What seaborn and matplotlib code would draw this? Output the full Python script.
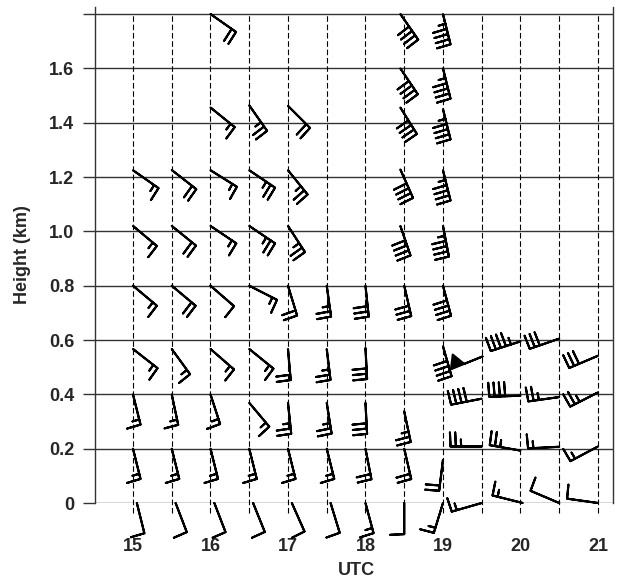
import numpy as np
import pandas as pd
import matplotlib
matplotlib.use("Agg")
import matplotlib.pyplot as plt
import seaborn as sns

# ---------------- data ----------------
hour_ticks = [15, 16, 17, 18, 19, 20, 21]
profile_times = [15.0, 15.5, 16.0, 16.5, 17.0, 17.5, 18.0, 18.5, 19.0, 19.5, 20.0, 20.5, 21.0]
height_ticks = [0.0, 0.2, 0.4, 0.6, 0.8, 1.0, 1.2, 1.4, 1.6, 1.8]
height_labels = ["0", "0.2", "0.4", "0.6", "0.8", "1.0", "1.2", "1.4", "1.6", ""]

# wind barbs: time (UTC h), height (km), direction wind blows from (deg), speed
barb_time = (
    [15.0] * 6 + [15.05]
    + [15.5] * 6 + [15.55]
    + [16.0] * 8 + [16.05]
    + [16.5] * 7 + [16.55]
    + [17.0] * 7 + [17.05]
    + [17.5] * 4 + [17.55]
    + [18.0] * 5
    + [18.45] * 5 + [18.5] * 4
    + [19.0] * 9
    + [19.5] * 4
    + [20.0] * 3 + [20.03]
    + [20.5] * 4
    + [21.0] * 4
)
barb_height = (
    [1.225, 1.02, 0.8, 0.567, 0.4, 0.2, 0.0]
    + [1.226, 1.02, 0.8, 0.567, 0.4, 0.2, 0.0]
    + [1.8, 1.456, 1.225, 1.02, 0.8, 0.567, 0.4, 0.2, 0.0]
    + [1.464, 1.225, 1.02, 0.8, 0.567, 0.369, 0.2, 0.0]
    + [1.462, 1.225, 1.02, 0.8, 0.567, 0.369, 0.2, 0.0]
    + [0.8, 0.567, 0.369, 0.2, 0.0]
    + [0.8, 0.571, 0.369, 0.2, 0.0]
    + [1.8, 1.6, 1.456, 1.228, 1.02, 0.8, 0.337, 0.2, 0.0]
    + [1.8, 1.6, 1.45, 1.225, 1.02, 0.8, 0.577, 0.159, 0.0]
    + [0.542, 0.384, 0.208, 0.0]
    + [0.595, 0.395, 0.193, 0.0]
    + [0.605, 0.39, 0.207, 0.0]
    + [0.542, 0.407, 0.208, 0.0]
)
barb_dir = (
    [125, 130, 130, 128, 166, 166, 166]
    + [128, 129, 130, 144, 168, 166, 159]
    + [125, 129, 122, 124, 131, 131, 162, 166, 159]
    + [145, 124, 124, 117, 129, 140, 166, 158]
    + [135, 141, 147, 163, 175, 174, 166, 156]
    + [172, 173, 171, 166, 163]
    + [174, 177, 177, 169, 165]
    + [145, 146, 148, 156, 161, 167, 168, 167, 180]
    + [166, 166, 166, 166, 169, 165, 164, 187, 197]
    + [248, 259, 270, 254]
    + [252, 268, 280, 284]
    + [251, 262, 267, 293]
    + [247, 243, 242, 278]
)
barb_speed = (
    [15, 15, 15, 15, 15, 15, 10]
    + [20, 20, 20, 15, 15, 15, 10]
    + [20, 15, 15, 15, 10, 15, 15, 15, 10]
    + [25, 25, 25, 15, 15, 15, 15, 10]
    + [20, 25, 25, 20, 20, 25, 15, 10]
    + [25, 25, 25, 15, 10]
    + [30, 30, 30, 20, 15]
    + [40, 40, 40, 40, 40, 30, 25, 20, 10]
    + [45, 45, 45, 45, 45, 40, 40, 20, 15]
    + [50, 40, 25, 15]
    + [45, 40, 25, 15]
    + [30, 25, 15, 10]
    + [30, 25, 15, 10]
)

df = pd.DataFrame({"time": barb_time, "height": barb_height,
                   "dir": barb_dir, "speed": barb_speed})
rad = np.deg2rad(df["dir"].to_numpy())
df["u"] = -df["speed"] * np.sin(rad)
df["v"] = -df["speed"] * np.cos(rad)

# ---------------- style ----------------
sns.set_theme(style="white")
plt.rcParams["font.family"] = ["Liberation Sans", "DejaVu Sans"]
plt.rcParams["font.weight"] = "bold"

fig = plt.figure(figsize=(6.31, 5.79), dpi=100)
ax = fig.add_axes([95 / 631, 76 / 579, 518 / 631, 496 / 579])
ax.set_xlim(14.51, 21.194)
ax.set_ylim(0, 1.826)

# horizontal grid lines (solid) and ticks sticking out left
ax.set_yticks(height_ticks)
ax.set_yticklabels(height_labels, fontsize=13, fontweight="bold")
ax.yaxis.grid(True, color="#333333", linewidth=1.0)
ax.tick_params(axis="y", which="major", length=8.6, width=1.0, color="#333333",
               direction="out", left=True, pad=6.5)

# x ticks (labels only)
ax.set_xticks(hour_ticks)
ax.set_xticklabels([str(h) for h in hour_ticks], fontsize=13, fontweight="bold")
ax.tick_params(axis="x", length=0, pad=25)
ax.xaxis.grid(False)

# vertical dashed lines at profile times
ax.vlines(profile_times, -0.035, 1.8, colors="black", linewidth=0.8,
          linestyles=(0, (5, 2.5)), clip_on=False, zorder=1)

# spines
for s in ["top", "bottom"]:
    ax.spines[s].set_visible(False)
for s in ["left", "right"]:
    ax.spines[s].set_visible(True)
    ax.spines[s].set_color("#333333")
    ax.spines[s].set_linewidth(1.0)

# wind barbs (feathers nearly perpendicular to the shaft)
plain = df[df["speed"] < 50]
flagged = df[df["speed"] >= 50]
ax.barbs(plain["time"], plain["height"], plain["u"], plain["v"], length=6.7,
         pivot="tip", color="black", linewidth=1.5, clip_on=False, zorder=3,
         sizes=dict(spacing=0.17, height=0.45, width=0.04))
ax.barbs(flagged["time"], flagged["height"], flagged["u"], flagged["v"], length=7.0,
         pivot="tip", color="black", linewidth=1.5, clip_on=False, zorder=3,
         sizes=dict(spacing=0.15, height=0.38, width=0.42))

ax.set_xlabel("UTC", fontsize=13, fontweight="bold")
ax.xaxis.set_label_coords(0.504, -0.119)
ax.set_ylabel("Height (km)", fontsize=13, fontweight="bold")
ax.yaxis.set_label_coords(-0.1236, 0.5)

fig.savefig("out.png", dpi=100)
